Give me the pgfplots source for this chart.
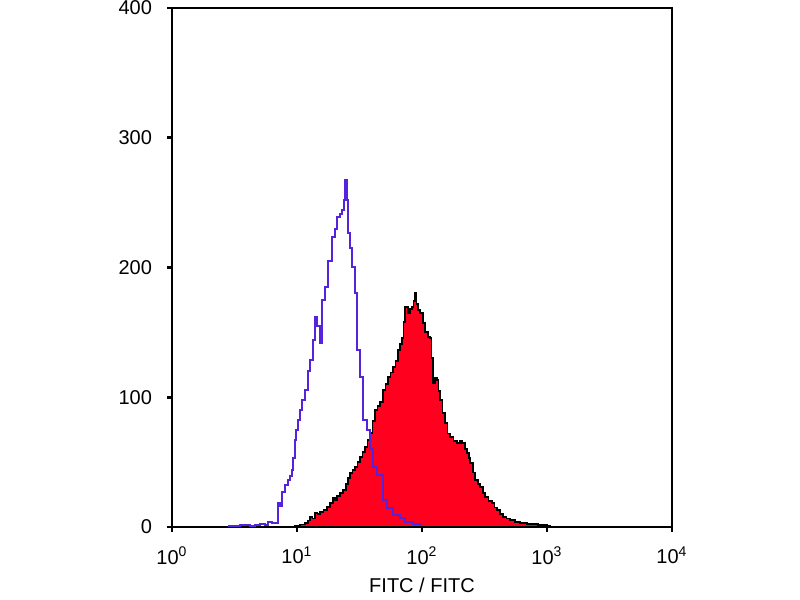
\documentclass[border=0pt]{standalone}
\usepackage{pgfplots}
\pgfplotsset{compat=1.18}
\usepackage{fontspec}
\setmainfont{Liberation Sans}
\definecolor{fillred}{RGB}{255,0,30}
\definecolor{isoviolet}{RGB}{85,35,220}
\begin{document}
\begin{tikzpicture}
\path[use as bounding box] (-86pt,-36.5pt) rectangle (314pt,263.5pt);
\begin{axis}[
  at={(0pt,0pt)}, anchor=south west,
  scale only axis, width=250pt, height=259.5pt,
  xmode=log, xmin=1, xmax=10000, ymin=0, ymax=400,
  xminorticks=false,
  xtick={1,10,100,1000,10000},
  xticklabels={10\textsuperscript{0},10\textsuperscript{1},10\textsuperscript{2},10\textsuperscript{3},10\textsuperscript{4}},
  ytick={0,100,200,300,400},
  yticklabels={0,100,200,300,400},
  tick align=outside, tick pos=left,
  major tick length=2.5pt,
  axis line style={line width=1.3pt},
  major tick style={line width=1.3pt, black},
  tick label style={font=\fontsize{10}{12}\selectfont},
  xticklabel style={yshift=-4pt},
  yticklabel style={xshift=-4pt},
  xlabel={FITC / FITC},
  xlabel style={at={(axis description cs:0.5,-0.112)}, anchor=center, font=\fontsize{10}{12}\selectfont},
  clip=true,
]
% stained sample (filled red histogram)
\addplot[const plot, fill=fillred, draw=black, line width=0.9pt] coordinates {
(9.0,0) (9.64,1) (10.57,2) (11.59,3) (12.2,5) (12.71,7.7) (13.3,6.5) (13.93,10.8)
(14.6,10) (15.28,11.5) (16.3,13) (17.38,15.4) (18.45,18.5) (19.41,22.4)
(20.2,21) (20.89,24) (22.08,26.2) (23.39,28.5) (24.5,33) (25.5,38) (26.55,41.6)
(27.8,44) (29.11,46.2) (30.5,50) (31.92,54) (33.4,58) (35.0,61.7) (36.6,67)
(38.37,72.4) (40.2,82) (42.07,90.2) (44.0,93) (46.13,96.3) (48.75,105.6)
(51.0,110) (53.46,115.6) (56.0,119) (58.61,123.3) (61.4,128) (64.27,136.4)
(66.6,141) (69.18,145.7) (71.0,158) (73.11,169.6) (77.27,164.9) (80.1,168)
(83.18,169.6) (85.5,174) (87.9,180.3) (90.3,172) (92.9,167.2) (96.38,164.9)
(101.9,157.2) (105.7,150.3) (111.7,146.4) (115.9,145.7) (119.0,130)
(122.5,111) (126.8,115) (131.8,113.3) (135.5,105) (139.3,97.9) (145.8,88)
(152.8,80.2) (160.0,72) (167.5,69.4) (178.7,66) (191.0,64.7) (200.0,66)
(209.9,64.7) (219.5,60) (230.1,57) (236.5,53) (243.2,49.3) (255.0,42)
(266.7,36.2) (279.5,33) (292.4,30.8) (306.0,26) (320.6,23.1) (340.0,20)
(362.2,18.5) (380.0,15) (398.1,13.1) (422.0,10) (446.7,7.7) (475.0,6.5)
(506.0,5.4) (555.0,4) (608.1,3.1) (690.0,2.5) (774.5,2.3) (850.0,1.8)
(932.5,1.5) (1000.0,0.8) (1059,0)
} \closedcycle;
% isotype control (violet line)
\addplot[const plot, draw=isoviolet, line width=1pt] coordinates {
(2.8,0.8) (3.5,1.2) (4.2,0.5) (4.6,1.5) (5.06,2.5) (5.5,1.5) (5.86,4)
(6.3,3) (6.67,3.1) (7.05,18.5) (7.3,16) (7.59,27) (8.02,32.4) (8.47,36.2)
(8.79,39.3) (9.12,43.9) (9.29,53.2) (9.64,67) (9.82,74.8) (10.19,82.5)
(10.57,90.2) (10.96,97.9) (11.59,105.6) (12.25,120) (12.71,128.7)
(13.43,144) (13.93,161.8) (14.45,155) (15.28,142) (15.85,175) (16.75,185)
(17.70,205) (19.05,223.5) (20.14,230) (20.89,238.9) (22.08,241) (22.91,244.3)
(23.6,252) (24.21,267.4) (25.12,252) (25.59,226.6) (26.55,215) (27.54,200.4)
(29.11,180.3) (30.20,136.4) (31.92,115.6) (33.73,82.5) (36.31,74.8)
(38.37,60) (40.55,46.2) (43.65,40) (48.75,20.8) (52.48,15) (58.61,9)
(66.68,7) (73.11,4) (84.72,2) (96.38,0.5)
};
\end{axis}
\end{tikzpicture}
\end{document}
